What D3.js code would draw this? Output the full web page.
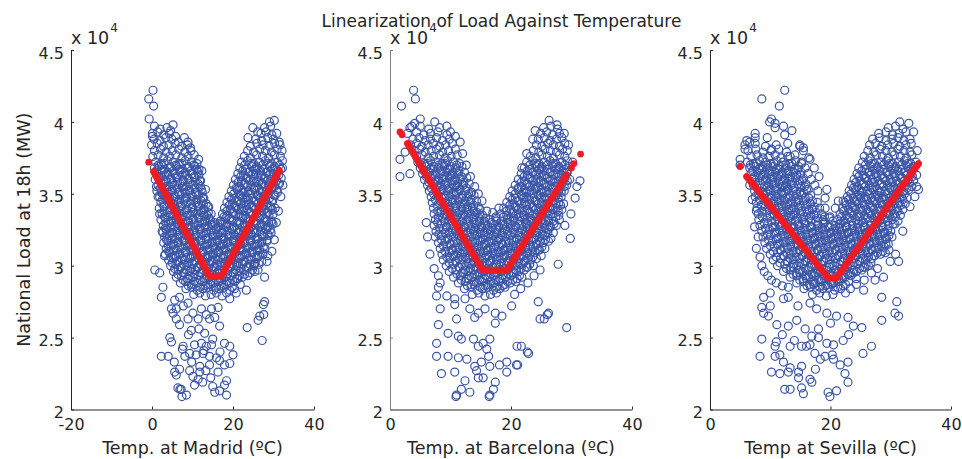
<!DOCTYPE html>
<html>
<head>
<meta charset="utf-8">
<script src="https://cdn.jsdelivr.net/npm/d3@7"></script>
<style>
  body { margin: 0; background: #fff; }
  svg { display: block; font-family: "DejaVu Sans", sans-serif; }
</style>
</head>
<body>
<svg width="962" height="459"></svg>
<script>
// [temperature ºC, national load at 18h in units of 10^4 MW]
const madridPoints = [
  [0.6,3.97],[2.0,3.95],[3.7,3.96],[4.6,3.94],[27.8,3.96],[29.3,3.97],
  [0.1,3.92],[1.4,3.93],[2.9,3.91],[4.3,3.92],[5.8,3.90],[26.9,3.92],[28.2,3.93],[29.6,3.91],[30.8,3.92],
  [0.5,3.88],[2.0,3.87],[3.4,3.89],[4.9,3.88],[6.5,3.86],[8.0,3.89],[25.6,3.88],[27.1,3.87],[28.6,3.89],[30.0,3.88],[31.4,3.86],
  [-0.1,3.84],[1.3,3.85],[2.8,3.83],[4.2,3.84],[5.7,3.85],[7.3,3.83],[8.8,3.84],[24.3,3.83],[25.9,3.85],[27.4,3.84],[28.9,3.83],[30.3,3.85],[31.6,3.84],
  [0.6,3.80],[2.1,3.81],[3.5,3.79],[5.0,3.80],[6.6,3.81],[8.1,3.79],[9.6,3.80],[23.6,3.80],[25.1,3.79],[26.6,3.81],[28.0,3.80],[29.5,3.79],[30.9,3.81],[32.1,3.80],
  [0.2,3.76],[1.5,3.77],[2.9,3.75],[4.4,3.76],[5.9,3.77],[7.4,3.75],[8.9,3.76],[10.4,3.77],[22.8,3.76],[24.3,3.75],[25.8,3.77],[27.3,3.76],[28.8,3.75],[30.2,3.77],[31.7,3.76],
  [0.9,3.72],[2.3,3.71],[3.8,3.73],[5.2,3.72],[6.7,3.71],[8.2,3.73],[9.7,3.72],[11.1,3.71],[22.1,3.72],[23.6,3.73],[25.1,3.71],[26.5,3.72],[28.0,3.73],[29.5,3.71],[30.9,3.72],[32.2,3.73],
  [0.6,3.68],[1.7,3.69],[3.1,3.67],[4.6,3.68],[6.0,3.69],[7.5,3.67],[9.0,3.68],[10.5,3.69],[11.6,3.67],[21.7,3.68],[23.1,3.67],[24.6,3.69],[26.0,3.68],[27.5,3.67],[29.0,3.69],[30.4,3.68],[31.8,3.67],
  [1.3,3.64],[2.6,3.65],[4.0,3.63],[5.4,3.64],[6.9,3.65],[8.3,3.63],[9.8,3.64],[11.3,3.65],[21.2,3.64],[22.6,3.63],[24.0,3.65],[25.5,3.64],[27.0,3.63],[28.4,3.65],[29.9,3.64],[31.3,3.63],
  [0.8,3.60],[2.0,3.61],[3.4,3.59],[4.8,3.60],[6.2,3.61],[7.7,3.59],[9.1,3.60],[10.6,3.61],[12.0,3.59],[20.6,3.60],[22.1,3.59],[23.5,3.61],[25.0,3.60],[26.4,3.59],[27.9,3.61],[29.3,3.60],[30.8,3.59],[31.9,3.61],
  [1.5,3.56],[2.8,3.57],[4.2,3.55],[5.6,3.56],[7.0,3.57],[8.5,3.55],[9.9,3.56],[11.4,3.57],[20.1,3.56],[21.5,3.55],[23.0,3.57],[24.4,3.56],[25.9,3.55],[27.3,3.57],[28.7,3.56],[30.2,3.55],[31.5,3.57],
  [1.2,3.52],[2.3,3.51],[3.6,3.53],[5.0,3.52],[6.4,3.51],[7.8,3.53],[9.3,3.52],[10.7,3.51],[12.2,3.53],[19.6,3.52],[21.0,3.53],[22.4,3.51],[23.8,3.52],[25.3,3.53],[26.7,3.51],[28.2,3.52],[29.6,3.53],[31.0,3.51],
  [1.9,3.48],[3.0,3.49],[4.4,3.47],[5.8,3.48],[7.2,3.49],[8.6,3.47],[10.1,3.48],[11.5,3.49],[12.8,3.47],[19.0,3.48],[20.4,3.47],[21.8,3.49],[23.2,3.48],[24.7,3.47],[26.1,3.49],[27.6,3.48],[29.0,3.47],[30.4,3.49],
  [2.2,3.44],[3.7,3.45],[5.1,3.43],[6.5,3.44],[7.9,3.45],[9.4,3.43],[10.8,3.44],[12.2,3.45],[13.4,3.43],[18.5,3.44],[19.9,3.43],[21.3,3.45],[22.7,3.44],[24.1,3.43],[25.6,3.45],[27.0,3.44],[28.4,3.43],[29.8,3.45],
  [1.8,3.40],[3.0,3.41],[4.4,3.39],[5.8,3.40],[7.2,3.41],[8.6,3.39],[10.0,3.40],[11.5,3.41],[12.9,3.39],[14.0,3.41],[17.9,3.40],[19.3,3.39],[20.7,3.41],[22.1,3.40],[23.5,3.39],[25.0,3.41],[26.4,3.40],[27.8,3.39],[29.3,3.41],[30.4,3.40],
  [2.5,3.36],[3.8,3.37],[5.2,3.35],[6.6,3.36],[8.0,3.37],[9.4,3.35],[10.8,3.36],[12.2,3.37],[13.6,3.35],[17.4,3.36],[18.7,3.35],[20.1,3.37],[21.5,3.36],[23.0,3.35],[24.4,3.37],[25.8,3.36],[27.2,3.35],[28.6,3.37],[29.9,3.36],
  [2.2,3.32],[3.3,3.33],[4.6,3.31],[6.0,3.32],[7.4,3.33],[8.8,3.31],[10.2,3.32],[11.6,3.33],[13.0,3.31],[14.4,3.32],[16.9,3.31],[18.2,3.33],[19.6,3.32],[21.0,3.31],[22.4,3.33],[23.8,3.32],[25.2,3.31],[26.6,3.33],[28.0,3.32],[29.4,3.31],
  [2.8,3.28],[4.1,3.29],[5.5,3.27],[6.8,3.28],[8.2,3.29],[9.6,3.27],[11.0,3.28],[12.4,3.29],[13.8,3.27],[15.1,3.28],[16.4,3.27],[17.6,3.29],[19.0,3.28],[20.3,3.27],[21.7,3.29],[23.1,3.28],[24.5,3.27],[25.9,3.29],[27.3,3.28],[28.7,3.27],[29.9,3.29],
  [2.5,3.24],[3.6,3.25],[4.9,3.23],[6.3,3.24],[7.7,3.25],[9.1,3.23],[10.5,3.24],[11.9,3.25],[13.3,3.23],[14.6,3.24],[15.9,3.25],[17.2,3.23],[18.5,3.24],[19.8,3.25],[21.2,3.23],[22.6,3.24],[24.0,3.25],[25.4,3.23],[26.8,3.24],[28.2,3.25],[29.4,3.23],
  [3.1,3.20],[4.3,3.21],[5.7,3.19],[7.0,3.20],[8.4,3.21],[9.8,3.19],[11.2,3.20],[12.6,3.21],[13.9,3.19],[15.2,3.20],[16.5,3.21],[17.8,3.19],[19.2,3.20],[20.5,3.21],[21.9,3.19],[23.3,3.20],[24.7,3.21],[26.1,3.19],[27.5,3.20],[28.9,3.21],
  [2.9,3.16],[4.0,3.17],[5.2,3.15],[6.5,3.16],[7.9,3.17],[9.3,3.15],[10.7,3.16],[12.1,3.17],[13.5,3.15],[14.8,3.16],[16.1,3.17],[17.4,3.15],[18.7,3.16],[20.1,3.17],[21.5,3.15],[22.9,3.16],[24.3,3.17],[25.7,3.15],[27.1,3.16],[28.4,3.17],
  [3.5,3.12],[4.7,3.13],[6.0,3.11],[7.4,3.12],[8.8,3.13],[10.2,3.11],[11.6,3.12],[13.0,3.13],[14.3,3.11],[15.6,3.12],[16.9,3.13],[18.2,3.11],[19.6,3.12],[21.0,3.13],[22.4,3.11],[23.8,3.12],[25.2,3.13],[26.6,3.11],[27.9,3.12],
  [3.3,3.08],[4.4,3.09],[5.6,3.07],[6.9,3.08],[8.3,3.09],[9.7,3.07],[11.1,3.08],[12.5,3.09],[13.8,3.07],[15.1,3.08],[16.4,3.09],[17.7,3.07],[19.1,3.08],[20.5,3.09],[21.9,3.07],[23.3,3.08],[24.7,3.09],[26.1,3.07],[27.4,3.08],
  [4.1,3.04],[5.3,3.05],[6.6,3.03],[8.0,3.04],[9.4,3.05],[10.8,3.03],[12.2,3.04],[13.6,3.05],[14.9,3.03],[16.2,3.04],[17.5,3.05],[18.8,3.03],[20.2,3.04],[21.6,3.05],[23.0,3.03],[24.4,3.04],[25.8,3.05],[27.1,3.03],
  [4.6,3.00],[5.9,3.01],[7.2,2.99],[8.6,3.00],[10.0,3.01],[11.4,2.99],[12.8,3.00],[14.2,3.01],[15.5,2.99],[16.8,3.00],[18.1,3.01],[19.5,2.99],[20.9,3.00],[22.3,3.01],[23.7,2.99],[25.1,3.00],[26.4,3.01],
  [5.3,2.96],[6.5,2.97],[7.9,2.95],[9.3,2.96],[10.7,2.97],[12.1,2.95],[13.5,2.96],[14.8,2.97],[16.1,2.95],[17.4,2.96],[18.7,2.97],[20.1,2.95],[21.5,2.96],[22.9,2.97],[24.2,2.95],[25.4,2.96],
  [6.0,2.92],[7.3,2.93],[8.7,2.91],[10.1,2.92],[11.5,2.93],[12.9,2.91],[14.2,2.92],[15.5,2.93],[16.8,2.91],[18.1,2.92],[19.5,2.93],[20.9,2.91],[22.3,2.92],[23.6,2.93],
  [7.0,2.88],[8.3,2.89],[9.7,2.87],[11.1,2.88],[12.5,2.89],[13.8,2.87],[15.1,2.88],[16.4,2.89],[17.7,2.87],[19.1,2.88],[20.5,2.89],[21.8,2.87],
  [8.4,2.84],[9.8,2.85],[11.2,2.83],[12.6,2.84],[13.9,2.85],[15.2,2.83],[16.5,2.84],[17.8,2.85],[19.2,2.83],[20.4,2.84],
  [10.3,2.80],[11.8,2.81],[13.2,2.79],[14.6,2.80],[15.9,2.81],[17.3,2.79],
  [0.25,4.22],[-0.8,4.16],[0.4,4.11],[-0.7,4.02],[0.1,3.90],[5.2,3.98],[8.9,3.86],[9.5,3.82],[11.5,3.74],[12.3,3.66],[13.2,3.53],[13.8,3.41],[14.6,3.36],[15.4,3.30],[16.3,3.29],
  [1.1,3.55],[1.5,3.48],[1.9,3.36],[2.7,3.23],[3.1,3.07],[0.7,2.97],[1.9,2.95],[2.7,2.85],[2.3,2.78],
  [24.9,3.96],[26.1,3.93],[23.7,3.89],[29.0,4.00],[30.2,4.01],[32.2,3.68],[32.3,3.56],[31.8,3.48],[31.2,3.38],[30.7,3.30],[30.2,3.18],[29.6,3.10],[28.6,3.07],[28.4,3.03],
  [26.2,2.97],[25.3,3.01],[27.8,2.92],[23.3,2.83],[20.8,2.81],[18.4,2.81],[19.2,2.77],
  [5.6,2.76],[6.8,2.78],[6.0,2.70],[7.7,2.72],[8.9,2.74],[10.1,2.67],[12.2,2.70],[13.4,2.66],[14.7,2.70],[16.3,2.71],[16.7,2.58],[15.5,2.64],[14.2,2.63],[11.4,2.63],
  [8.9,2.63],[6.8,2.59],[6.0,2.63],[5.2,2.67],[4.8,2.70],[11.6,2.56],[9.7,2.55],[4.4,2.50],[4.8,2.47],[7.7,2.44],[10.5,2.45],[12.2,2.46],[13.4,2.44],[14.7,2.45],
  [17.9,2.46],[19.2,2.44],[8.1,2.37],[9.3,2.39],[10.9,2.38],[12.6,2.39],[14.2,2.37],[15.9,2.36],[20.0,2.38],[19.2,2.32],[17.9,2.31],[2.3,2.37],[4.0,2.37],[11.8,2.30],
  [14.2,2.31],[16.7,2.34],[6.0,2.24],[5.6,2.26],[6.8,2.28],[10.1,2.23],[11.4,2.21],[11.8,2.26],[16.3,2.26],[18.4,2.20],[17.9,2.17],[6.4,2.15],[7.2,2.14],[8.5,2.10],
  [15.5,2.12],[16.7,2.13],[18.4,2.10],[6.9,2.14],[7.4,2.09],[9.0,2.52],[13.0,2.53],[15.0,2.49],[12.8,2.41],[9.8,2.33],[13.3,2.27],[7.5,2.42],[16.8,2.40],[5.5,2.33],
  [10.5,2.17],[12.5,2.19],[14.5,2.22],[9.3,2.27],[15.0,2.16],
  [27.8,2.75],[26.6,2.65],[26.2,2.62],[23.5,2.57],[27.2,2.48],[27.6,2.66],[27.5,2.73]
];
const madridCore = [
  [1.6,3.70],[3.0,3.71],[4.5,3.69],[5.9,3.70],[7.4,3.71],[8.9,3.69],[10.3,3.70],[22.9,3.70],[24.4,3.71],[25.8,3.69],[27.3,3.70],[28.7,3.71],[30.2,3.69],[31.5,3.70],
  [1.1,3.66],[2.4,3.67],[3.9,3.65],[5.3,3.66],[6.8,3.67],[8.2,3.65],[9.6,3.66],[11.0,3.67],[22.4,3.66],[23.9,3.65],[25.3,3.67],[26.8,3.66],[28.2,3.65],[29.7,3.67],[31.1,3.66],
  [1.7,3.62],[3.1,3.63],[4.6,3.61],[6.0,3.62],[7.5,3.63],[8.9,3.61],[10.4,3.62],[11.6,3.63],[21.9,3.62],[23.3,3.61],[24.8,3.63],[26.2,3.62],[27.7,3.61],[29.1,3.63],[30.6,3.62],
  [2.2,3.58],[3.5,3.59],[4.9,3.57],[6.3,3.58],[7.8,3.59],[9.2,3.57],[10.7,3.58],[11.8,3.59],[21.3,3.58],[22.8,3.57],[24.2,3.59],[25.7,3.58],[27.1,3.57],[28.6,3.59],[30.0,3.58],[31.2,3.57],
  [2.1,3.54],[3.5,3.55],[4.9,3.53],[6.3,3.54],[7.7,3.55],[9.1,3.53],[10.6,3.54],[12.0,3.55],[20.8,3.54],[22.2,3.53],[23.6,3.55],[25.1,3.54],[26.5,3.53],[28.0,3.55],[29.4,3.54],[30.8,3.53],
  [2.6,3.50],[4.0,3.51],[5.4,3.49],[6.8,3.50],[8.2,3.51],[9.6,3.49],[11.0,3.50],[12.4,3.51],[20.2,3.50],[21.6,3.49],[23.0,3.51],[24.4,3.50],[25.9,3.49],[27.3,3.51],[28.7,3.50],[30.1,3.49],
  [2.6,3.46],[4.0,3.47],[5.4,3.45],[6.8,3.46],[8.2,3.47],[9.6,3.45],[11.1,3.46],[12.5,3.47],[19.6,3.46],[21.0,3.45],[22.4,3.47],[23.8,3.46],[25.2,3.45],[26.7,3.47],[28.1,3.46],[29.5,3.45],
  [2.9,3.42],[4.3,3.43],[5.7,3.41],[7.1,3.42],[8.5,3.43],[9.9,3.41],[11.3,3.42],[12.7,3.43],[19.1,3.42],[20.5,3.41],[21.9,3.43],[23.3,3.42],[24.7,3.41],[26.2,3.43],[27.6,3.42],[29.0,3.41],
  [3.0,3.38],[4.4,3.39],[5.8,3.37],[7.2,3.38],[8.6,3.39],[10.0,3.37],[11.4,3.38],[12.8,3.39],[13.9,3.37],[18.5,3.38],[19.9,3.37],[21.3,3.39],[22.7,3.38],[24.1,3.37],[25.5,3.39],[27.0,3.38],[28.4,3.37],[29.7,3.39],
  [3.1,3.34],[4.5,3.35],[5.9,3.33],[7.3,3.34],[8.7,3.35],[10.1,3.33],[11.5,3.34],[12.9,3.35],[14.1,3.33],[17.8,3.34],[19.2,3.33],[20.6,3.35],[22.0,3.34],[23.4,3.33],[24.8,3.35],[26.2,3.34],[27.6,3.33],[28.9,3.35],
  [3.4,3.30],[4.8,3.31],[6.2,3.29],[7.6,3.30],[9.0,3.31],[10.4,3.29],[11.8,3.30],[13.2,3.31],[14.6,3.29],[17.2,3.30],[18.6,3.29],[20.0,3.31],[21.4,3.30],[22.8,3.29],[24.2,3.31],[25.6,3.30],[27.0,3.29],[28.4,3.31],[29.6,3.30],
  [3.3,3.26],[4.7,3.27],[6.1,3.25],[7.5,3.26],[8.9,3.27],[10.3,3.25],[11.7,3.26],[13.1,3.27],[14.5,3.25],[15.8,3.26],[17.0,3.25],[18.3,3.27],[19.7,3.26],[21.0,3.25],[22.4,3.27],[23.8,3.26],[25.2,3.25],[26.6,3.27],[28.0,3.26],[29.2,3.25],
  [3.7,3.22],[5.1,3.23],[6.5,3.21],[7.9,3.22],[9.3,3.23],[10.7,3.21],[12.1,3.22],[13.5,3.23],[14.9,3.21],[16.2,3.22],[17.5,3.23],[18.8,3.21],[20.2,3.22],[21.6,3.23],[23.0,3.21],[24.4,3.22],[25.8,3.23],[27.2,3.21],[28.5,3.22],
  [3.6,3.18],[5.0,3.19],[6.4,3.17],[7.8,3.18],[9.2,3.19],[10.6,3.17],[12.0,3.18],[13.4,3.19],[14.8,3.17],[16.1,3.18],[17.4,3.19],[18.7,3.17],[20.1,3.18],[21.5,3.19],[22.9,3.17],[24.3,3.18],[25.7,3.19],[27.1,3.17],[28.4,3.18],
  [4.0,3.14],[5.4,3.15],[6.8,3.13],[8.2,3.14],[9.6,3.15],[11.0,3.13],[12.4,3.14],[13.8,3.15],[15.2,3.13],[16.5,3.14],[17.8,3.15],[19.1,3.13],[20.5,3.14],[21.9,3.15],[23.3,3.13],[24.7,3.14],[26.1,3.15],[27.5,3.13],
  [4.1,3.10],[5.4,3.11],[6.8,3.09],[8.2,3.10],[9.6,3.11],[11.0,3.09],[12.4,3.10],[13.8,3.11],[15.1,3.09],[16.4,3.10],[17.7,3.11],[19.0,3.09],[20.4,3.10],[21.8,3.11],[23.2,3.09],[24.6,3.10],[26.0,3.11],[27.3,3.09],
  [4.7,3.06],[6.0,3.07],[7.4,3.05],[8.8,3.06],[10.2,3.07],[11.6,3.05],[13.0,3.06],[14.3,3.07],[15.6,3.05],[16.9,3.06],[18.2,3.07],[19.6,3.05],[21.0,3.06],[22.4,3.07],[23.8,3.05],[25.2,3.06],[26.5,3.07],
  [5.0,3.02],[6.3,3.03],[7.7,3.01],[9.1,3.02],[10.5,3.03],[11.9,3.01],[13.3,3.02],[14.6,3.03],[15.9,3.01],[17.2,3.02],[18.5,3.03],[19.9,3.01],[21.3,3.02],[22.7,3.03],[24.1,3.01],[25.5,3.02],
  [5.6,2.98],[7.0,2.99],[8.4,2.97],[9.8,2.98],[11.2,2.99],[12.6,2.97],[14.0,2.98],[15.3,2.99],[16.6,2.97],[17.9,2.98],[19.2,2.99],[20.6,2.97],[22.0,2.98],[23.4,2.99],[24.8,2.97],
  [6.4,2.94],[7.8,2.95],[9.2,2.93],[10.6,2.94],[12.0,2.95],[13.4,2.93],[14.8,2.94],[16.1,2.95],[17.4,2.93],[18.7,2.94],[20.1,2.95],[21.5,2.93],[22.9,2.94],
  [7.7,2.90],[9.1,2.91],[10.5,2.89],[11.9,2.90],[13.3,2.91],[14.6,2.89],[15.9,2.90],[17.2,2.91],[18.5,2.89],[19.9,2.90],[21.2,2.91],
  [9.0,2.86],[10.4,2.87],[11.8,2.85],[13.2,2.86],[14.5,2.87],[15.8,2.85],[17.1,2.86],[18.5,2.87],[19.8,2.85]
];

const barcelonaPoints = [
  [3.3,3.96],[5.0,3.97],[6.4,3.95],[8.2,3.96],[25.4,3.96],[26.6,3.97],[27.7,3.95],
  [2.9,3.92],[4.4,3.93],[5.6,3.91],[6.7,3.92],[7.9,3.93],[9.4,3.91],[24.9,3.92],[25.9,3.93],[26.9,3.91],[28.0,3.92],
  [3.8,3.88],[4.8,3.89],[5.8,3.87],[6.7,3.88],[7.7,3.89],[8.7,3.87],[9.8,3.88],[24.5,3.88],[25.5,3.89],[26.5,3.87],[27.5,3.88],[28.4,3.89],
  [3.4,3.84],[4.4,3.85],[5.3,3.83],[6.3,3.84],[7.2,3.85],[8.2,3.83],[9.2,3.84],[10.3,3.85],[24.2,3.84],[25.1,3.83],[26.1,3.85],[27.0,3.84],[28.0,3.83],[28.9,3.85],
  [4.0,3.80],[4.9,3.81],[5.8,3.79],[6.8,3.80],[7.7,3.81],[8.7,3.79],[9.7,3.80],[10.8,3.81],[23.7,3.80],[24.6,3.79],[25.6,3.81],[26.5,3.80],[27.5,3.79],[28.5,3.81],[29.3,3.80],
  [4.4,3.76],[5.3,3.77],[6.3,3.75],[7.2,3.76],[8.2,3.77],[9.1,3.75],[10.1,3.76],[11.1,3.77],[23.2,3.76],[24.1,3.75],[25.1,3.77],[26.0,3.76],[27.0,3.75],[28.0,3.77],[28.9,3.76],
  [4.6,3.72],[5.7,3.71],[6.7,3.73],[7.6,3.72],[8.6,3.71],[9.5,3.73],[10.5,3.72],[11.5,3.71],[22.6,3.72],[23.6,3.73],[24.6,3.71],[25.5,3.72],[26.5,3.73],[27.4,3.71],[28.4,3.72],[29.3,3.73],
  [5.0,3.68],[6.1,3.69],[7.1,3.67],[8.0,3.68],[9.0,3.69],[9.9,3.67],[10.9,3.68],[11.9,3.69],[22.2,3.68],[23.1,3.67],[24.1,3.69],[25.0,3.68],[26.0,3.67],[26.9,3.69],[27.9,3.68],[28.8,3.67],[29.6,3.69],
  [5.4,3.64],[6.5,3.65],[7.5,3.63],[8.4,3.64],[9.4,3.65],[10.3,3.63],[11.3,3.64],[12.3,3.65],[21.7,3.64],[22.7,3.63],[23.6,3.65],[24.6,3.64],[25.5,3.63],[26.5,3.65],[27.4,3.64],[28.4,3.63],[29.3,3.65],
  [5.7,3.60],[6.9,3.61],[7.9,3.59],[8.8,3.60],[9.8,3.61],[10.7,3.59],[11.7,3.60],[12.7,3.61],[21.2,3.60],[22.2,3.59],[23.1,3.61],[24.1,3.60],[25.0,3.59],[26.0,3.61],[26.9,3.60],[27.9,3.59],[28.8,3.61],[29.7,3.60],
  [6.2,3.56],[7.3,3.57],[8.3,3.55],[9.2,3.56],[10.2,3.57],[11.1,3.55],[12.1,3.56],[13.1,3.57],[20.7,3.56],[21.7,3.55],[22.6,3.57],[23.6,3.56],[24.5,3.55],[25.5,3.57],[26.4,3.56],[27.4,3.55],[28.3,3.57],[29.2,3.56],
  [6.5,3.52],[7.7,3.51],[8.6,3.53],[9.6,3.52],[10.5,3.51],[11.5,3.53],[12.5,3.52],[13.5,3.51],[20.2,3.52],[21.2,3.53],[22.1,3.51],[23.1,3.52],[24.0,3.53],[25.0,3.51],[25.9,3.52],[26.9,3.53],[27.8,3.51],[28.8,3.52],
  [6.8,3.48],[8.0,3.49],[9.0,3.47],[9.9,3.48],[10.9,3.49],[11.9,3.47],[12.9,3.48],[13.9,3.49],[19.8,3.48],[20.7,3.47],[21.7,3.49],[22.6,3.48],[23.6,3.47],[24.5,3.49],[25.5,3.48],[26.4,3.47],[27.4,3.49],[28.3,3.48],
  [7.0,3.44],[8.3,3.45],[9.3,3.43],[10.3,3.44],[11.3,3.45],[12.3,3.43],[13.3,3.44],[14.3,3.45],[19.3,3.44],[20.3,3.43],[21.2,3.45],[22.2,3.44],[23.1,3.43],[24.1,3.45],[25.0,3.44],[26.0,3.43],[26.9,3.45],[27.9,3.44],[28.7,3.43],
  [7.2,3.40],[8.6,3.41],[9.7,3.39],[10.7,3.40],[11.7,3.41],[12.7,3.39],[13.6,3.40],[14.6,3.41],[18.8,3.40],[19.8,3.39],[20.8,3.41],[21.7,3.40],[22.7,3.39],[23.6,3.41],[24.6,3.40],[25.5,3.39],[26.5,3.41],[27.4,3.40],[28.4,3.39],
  [7.3,3.36],[8.4,3.37],[9.4,3.35],[10.4,3.36],[11.4,3.37],[12.4,3.35],[13.4,3.36],[14.4,3.37],[15.3,3.35],[18.3,3.36],[19.3,3.35],[20.3,3.37],[21.2,3.36],[22.2,3.35],[23.1,3.37],[24.1,3.36],[25.0,3.35],[26.0,3.37],[26.9,3.36],[27.9,3.35],
  [7.5,3.32],[8.7,3.33],[9.7,3.31],[10.7,3.32],[11.7,3.33],[12.7,3.31],[13.7,3.32],[14.7,3.33],[15.6,3.31],[16.5,3.32],[17.5,3.33],[18.4,3.31],[19.4,3.32],[20.4,3.33],[21.3,3.31],[22.3,3.32],[23.2,3.33],[24.2,3.31],[25.1,3.32],[26.1,3.33],[27.0,3.31],[28.0,3.32],
  [7.3,3.28],[8.4,3.29],[9.4,3.27],[10.4,3.28],[11.4,3.29],[12.4,3.27],[13.4,3.28],[14.3,3.29],[15.2,3.27],[16.1,3.28],[17.1,3.29],[18.0,3.27],[18.9,3.28],[19.9,3.29],[20.8,3.27],[21.8,3.28],[22.7,3.29],[23.7,3.27],[24.6,3.28],[25.6,3.29],[26.5,3.27],[27.5,3.28],
  [7.6,3.24],[8.8,3.25],[9.8,3.23],[10.8,3.24],[11.8,3.25],[12.8,3.23],[13.8,3.24],[14.7,3.25],[15.6,3.23],[16.6,3.24],[17.5,3.25],[18.5,3.23],[19.4,3.24],[20.4,3.25],[21.3,3.23],[22.3,3.24],[23.2,3.25],[24.2,3.23],[25.1,3.24],[26.1,3.25],[27.0,3.23],
  [7.5,3.20],[8.5,3.21],[9.5,3.19],[10.5,3.20],[11.5,3.21],[12.5,3.19],[13.5,3.20],[14.4,3.21],[15.3,3.19],[16.2,3.20],[17.1,3.21],[18.0,3.19],[19.0,3.20],[19.9,3.21],[20.9,3.19],[21.8,3.20],[22.8,3.21],[23.7,3.19],[24.7,3.20],[25.6,3.21],[26.6,3.19],
  [8.0,3.16],[9.1,3.17],[10.1,3.15],[11.1,3.16],[12.1,3.17],[13.1,3.15],[14.0,3.16],[14.9,3.17],[15.8,3.15],[16.7,3.16],[17.7,3.17],[18.6,3.15],[19.6,3.16],[20.5,3.17],[21.5,3.15],[22.4,3.16],[23.4,3.17],[24.3,3.15],[25.3,3.16],[26.2,3.17],
  [8.3,3.12],[9.4,3.13],[10.4,3.11],[11.4,3.12],[12.4,3.13],[13.4,3.11],[14.3,3.12],[15.2,3.13],[16.1,3.11],[17.1,3.12],[18.0,3.13],[19.0,3.11],[19.9,3.12],[20.9,3.13],[21.8,3.11],[22.8,3.12],[23.7,3.13],[24.7,3.11],[25.6,3.12],
  [8.6,3.08],[9.8,3.09],[10.8,3.07],[11.8,3.08],[12.8,3.09],[13.7,3.07],[14.6,3.08],[15.5,3.09],[16.4,3.07],[17.4,3.08],[18.3,3.09],[19.3,3.07],[20.2,3.08],[21.2,3.09],[22.1,3.07],[23.1,3.08],[24.0,3.09],[25.0,3.07],
  [8.8,3.04],[9.9,3.05],[10.9,3.03],[11.9,3.04],[12.9,3.05],[13.9,3.03],[14.8,3.04],[15.7,3.05],[16.6,3.03],[17.6,3.04],[18.5,3.05],[19.5,3.03],[20.4,3.04],[21.4,3.05],[22.3,3.03],[23.3,3.04],[24.2,3.05],
  [9.3,3.00],[10.4,3.01],[11.4,2.99],[12.4,3.00],[13.4,3.01],[14.3,2.99],[15.2,3.00],[16.1,3.01],[17.0,2.99],[18.0,3.00],[18.9,3.01],[19.9,2.99],[20.8,3.00],[21.8,3.01],[22.7,2.99],[23.7,3.00],
  [9.8,2.96],[10.9,2.97],[11.9,2.95],[12.9,2.96],[13.8,2.97],[14.7,2.95],[15.6,2.96],[16.5,2.97],[17.5,2.95],[18.4,2.96],[19.4,2.97],[20.3,2.95],[21.3,2.96],[22.2,2.97],
  [10.5,2.92],[11.6,2.93],[12.6,2.91],[13.5,2.92],[14.4,2.93],[15.3,2.91],[16.2,2.92],[17.2,2.93],[18.1,2.91],[19.1,2.92],[20.0,2.93],[21.0,2.91],[21.8,2.92],
  [11.3,2.88],[12.4,2.89],[13.4,2.87],[14.3,2.88],[15.2,2.89],[16.1,2.87],[17.1,2.88],[18.0,2.89],[19.0,2.87],[19.9,2.88],[20.8,2.89],
  [12.3,2.84],[13.4,2.85],[14.4,2.83],[15.3,2.84],[16.2,2.85],[17.1,2.83],[18.1,2.84],[19.0,2.85],
  [13.6,2.80],[14.7,2.81],[15.7,2.79],[16.6,2.80],[17.6,2.81],
  [3.9,4.22],[4.2,4.16],[1.9,4.11],[5.0,4.02],[7.4,4.00],[9.4,3.97],[10.0,3.93],[3.6,3.97],[4.1,3.99],[1.65,3.74],[1.65,3.62],[3.3,3.64],[2.5,3.79],
  [10.8,3.90],[11.6,3.86],[12.0,3.78],[12.6,3.70],[13.3,3.62],[14.0,3.55],[14.6,3.50],[15.2,3.45],[16.0,3.38],[17.0,3.37],[18.0,3.40],[17.5,3.34],
  [21.8,3.68],[22.6,3.78],[23.6,3.88],[24.0,3.94],[26.3,4.01],[27.6,3.98],[28.8,3.92],[29.5,3.84],[31.4,3.59],[30.9,3.55],[30.6,3.47],[29.8,3.19],[27.8,3.01],
  [30.2,3.72],[29.9,3.36],[28.9,3.28],[6.0,3.30],[6.2,3.20],[6.6,3.08],[7.3,2.98],[8.0,2.93],[8.3,2.88],[24.8,2.97],[23.8,2.93],[22.8,2.88],[21.6,2.84],[20.6,2.80],
  [8.0,2.85],[7.7,2.79],[9.4,2.79],[10.7,2.77],[12.4,2.77],[8.3,2.70],[10.7,2.73],[13.2,2.70],[14.6,2.67],[15.7,2.70],[17.4,2.67],[18.5,2.65],[20.1,2.72],[17.4,2.60],
  [14.0,2.64],[11.0,2.63],[8.0,2.59],[9.6,2.53],[11.3,2.51],[11.8,2.49],[13.8,2.49],[14.6,2.44],[15.4,2.46],[16.0,2.42],[16.5,2.49],[7.7,2.46],[7.7,2.37],[9.6,2.37],
  [11.3,2.36],[12.7,2.35],[14.0,2.30],[15.1,2.33],[16.3,2.37],[16.5,2.30],[18.1,2.31],[19.3,2.33],[20.9,2.31],[8.5,2.25],[10.7,2.26],[14.3,2.27],[14.6,2.22],[15.4,2.22],
  [19.3,2.26],[17.4,2.19],[17.1,2.14],[12.4,2.20],[11.8,2.14],[13.2,2.12],[11.0,2.10],[16.5,2.10],[10.9,2.09],[16.4,2.09],
  [29.2,2.57],[26.2,2.67],[24.5,2.75],[24.8,2.63],[21.0,2.44],[22.9,2.39],[26.0,2.66],[25.5,2.63],[21.7,2.44],[22.7,2.40],[21.1,2.31]
];
const barcelonaCore = [
  [5.2,3.70],[6.2,3.71],[7.2,3.69],[8.1,3.70],[9.1,3.71],[10.0,3.69],[11.0,3.70],[23.1,3.70],[24.1,3.71],[25.1,3.69],[26.0,3.70],[27.0,3.71],[27.9,3.69],[28.9,3.70],
  [5.6,3.66],[6.6,3.67],[7.6,3.65],[8.5,3.66],[9.5,3.67],[10.4,3.65],[11.4,3.66],[22.7,3.66],[23.6,3.65],[24.6,3.67],[25.5,3.66],[26.5,3.65],[27.4,3.67],[28.4,3.66],[29.2,3.65],
  [6.0,3.62],[7.0,3.63],[8.0,3.61],[8.9,3.62],[9.9,3.63],[10.8,3.61],[11.8,3.62],[22.2,3.62],[23.2,3.61],[24.1,3.63],[25.1,3.62],[26.0,3.61],[27.0,3.63],[27.9,3.62],[28.9,3.61],
  [6.4,3.58],[7.4,3.59],[8.4,3.57],[9.3,3.58],[10.3,3.59],[11.2,3.57],[12.2,3.58],[21.7,3.58],[22.7,3.57],[23.6,3.59],[24.6,3.58],[25.5,3.57],[26.5,3.59],[27.4,3.58],[28.4,3.57],[29.3,3.59],
  [6.8,3.54],[7.8,3.55],[8.8,3.53],[9.7,3.54],[10.7,3.55],[11.6,3.53],[12.6,3.54],[21.2,3.54],[22.2,3.53],[23.1,3.55],[24.1,3.54],[25.0,3.53],[26.0,3.55],[26.9,3.54],[27.9,3.53],[28.8,3.55],
  [7.2,3.50],[8.2,3.51],[9.1,3.49],[10.1,3.50],[11.0,3.51],[12.0,3.49],[13.0,3.50],[20.7,3.50],[21.7,3.49],[22.6,3.51],[23.6,3.50],[24.5,3.49],[25.5,3.51],[26.4,3.50],[27.4,3.49],[28.3,3.51],
  [7.5,3.46],[8.5,3.47],[9.5,3.45],[10.4,3.46],[11.4,3.47],[12.4,3.45],[13.4,3.46],[20.2,3.46],[21.2,3.45],[22.1,3.47],[23.1,3.46],[24.0,3.45],[25.0,3.47],[25.9,3.46],[26.9,3.45],[27.8,3.47],
  [7.8,3.42],[8.8,3.43],[9.8,3.41],[10.8,3.42],[11.8,3.43],[12.8,3.41],[13.8,3.42],[19.8,3.42],[20.7,3.41],[21.7,3.43],[22.6,3.42],[23.6,3.41],[24.5,3.43],[25.5,3.42],[26.4,3.41],[27.4,3.43],[28.2,3.42],
  [7.9,3.38],[8.9,3.39],[9.9,3.37],[10.9,3.38],[11.9,3.39],[12.9,3.37],[13.9,3.38],[14.9,3.39],[19.3,3.38],[20.3,3.37],[21.2,3.39],[22.2,3.38],[23.1,3.37],[24.1,3.39],[25.0,3.38],[26.0,3.37],[26.9,3.39],[27.8,3.38],
  [8.0,3.34],[9.0,3.35],[10.0,3.33],[11.0,3.34],[12.0,3.35],[13.0,3.33],[13.9,3.34],[14.9,3.35],[15.8,3.33],[18.8,3.34],[19.8,3.33],[20.8,3.35],[21.7,3.34],[22.7,3.33],[23.6,3.35],[24.6,3.34],[25.5,3.33],[26.5,3.35],[27.4,3.34],
  [7.9,3.30],[9.0,3.31],[10.0,3.29],[11.0,3.30],[12.0,3.31],[12.9,3.29],[13.9,3.30],[14.8,3.31],[15.7,3.29],[16.7,3.30],[17.6,3.31],[18.6,3.29],[19.5,3.30],[20.5,3.31],[21.4,3.29],[22.4,3.30],[23.3,3.31],[24.3,3.29],[25.2,3.30],[26.2,3.31],[27.1,3.29],
  [8.2,3.26],[9.3,3.27],[10.3,3.25],[11.3,3.26],[12.3,3.27],[13.3,3.25],[14.2,3.26],[15.1,3.27],[16.1,3.25],[17.0,3.26],[18.0,3.27],[18.9,3.25],[19.9,3.26],[20.8,3.27],[21.8,3.25],[22.7,3.26],[23.7,3.27],[24.6,3.25],[25.6,3.26],[26.5,3.27],
  [8.1,3.22],[9.1,3.23],[10.1,3.21],[11.1,3.22],[12.1,3.23],[13.1,3.21],[14.0,3.22],[14.9,3.23],[15.8,3.21],[16.7,3.22],[17.6,3.23],[18.6,3.21],[19.5,3.22],[20.5,3.23],[21.4,3.21],[22.4,3.22],[23.3,3.23],[24.3,3.21],[25.2,3.22],[26.1,3.23],
  [8.5,3.18],[9.6,3.19],[10.6,3.17],[11.6,3.18],[12.6,3.19],[13.6,3.17],[14.5,3.18],[15.4,3.19],[16.3,3.17],[17.2,3.18],[18.2,3.19],[19.1,3.17],[20.1,3.18],[21.0,3.19],[22.0,3.17],[22.9,3.18],[23.9,3.19],[24.8,3.17],[25.7,3.18],
  [8.8,3.14],[9.9,3.15],[10.9,3.13],[11.9,3.14],[12.9,3.15],[13.8,3.13],[14.7,3.14],[15.6,3.15],[16.6,3.13],[17.5,3.14],[18.5,3.15],[19.4,3.13],[20.4,3.14],[21.3,3.15],[22.3,3.13],[23.2,3.14],[24.2,3.15],[25.1,3.13],
  [9.1,3.10],[10.2,3.11],[11.2,3.09],[12.2,3.10],[13.2,3.11],[14.1,3.09],[15.0,3.10],[16.0,3.11],[16.9,3.09],[17.9,3.10],[18.8,3.11],[19.8,3.09],[20.7,3.10],[21.7,3.11],[22.6,3.09],[23.6,3.10],[24.5,3.11],
  [9.4,3.06],[10.4,3.07],[11.4,3.05],[12.4,3.06],[13.3,3.07],[14.2,3.05],[15.1,3.06],[16.0,3.07],[17.0,3.05],[17.9,3.06],[18.9,3.07],[19.8,3.05],[20.8,3.06],[21.7,3.07],[22.7,3.05],[23.6,3.06],
  [9.8,3.02],[10.9,3.03],[11.9,3.01],[12.9,3.02],[13.8,3.03],[14.7,3.01],[15.6,3.02],[16.5,3.03],[17.5,3.01],[18.4,3.02],[19.4,3.03],[20.3,3.01],[21.3,3.02],[22.2,3.03],[23.1,3.01],
  [10.3,2.98],[11.4,2.99],[12.4,2.97],[13.3,2.98],[14.2,2.99],[15.1,2.97],[16.0,2.98],[17.0,2.99],[17.9,2.97],[18.9,2.98],[19.8,2.99],[20.8,2.97],[21.7,2.98],[22.6,2.99],
  [11.1,2.94],[12.1,2.95],[13.1,2.93],[14.0,2.94],[14.9,2.95],[15.8,2.93],[16.7,2.94],[17.7,2.95],[18.6,2.93],[19.6,2.94],[20.5,2.95],[21.4,2.93],
  [11.8,2.90],[12.9,2.91],[13.9,2.89],[14.8,2.90],[15.7,2.91],[16.6,2.89],[17.5,2.90],[18.5,2.91],[19.4,2.89],[20.3,2.90],
  [12.8,2.86],[13.9,2.87],[14.9,2.85],[15.8,2.86],[16.7,2.87],[17.6,2.85],[18.6,2.86]
];

const sevillaPoints = [
  [29.6,3.96],[30.8,3.97],[32.0,3.95],
  [28.0,3.92],[29.2,3.93],[30.3,3.91],[31.4,3.92],[32.5,3.93],
  [27.0,3.88],[28.1,3.89],[29.2,3.87],[30.2,3.88],[31.2,3.89],[32.2,3.87],[33.2,3.88],
  [5.8,3.84],[7.5,3.85],[9.2,3.83],[11.0,3.84],[12.9,3.85],[14.9,3.83],[26.5,3.84],[27.5,3.85],[28.5,3.83],[29.5,3.84],[30.5,3.85],[31.5,3.83],[32.5,3.84],[33.4,3.85],
  [6.3,3.80],[7.6,3.81],[8.8,3.79],[10.1,3.80],[11.4,3.81],[12.7,3.79],[15.5,3.80],[26.2,3.80],[27.2,3.79],[28.2,3.81],[29.2,3.80],[30.2,3.79],[31.2,3.81],[32.2,3.80],[33.2,3.79],
  [6.8,3.76],[7.8,3.77],[8.8,3.75],[9.8,3.76],[10.8,3.77],[11.8,3.75],[12.9,3.76],[14.1,3.77],[16.4,3.75],[25.6,3.76],[26.6,3.75],[27.6,3.77],[28.6,3.76],[29.6,3.75],[30.6,3.77],[31.6,3.76],[32.6,3.75],[33.5,3.77],
  [6.2,3.72],[7.2,3.71],[8.2,3.73],[9.2,3.72],[10.1,3.71],[11.1,3.73],[12.1,3.72],[13.1,3.71],[14.2,3.73],[15.2,3.72],[25.3,3.72],[26.3,3.73],[27.3,3.71],[28.3,3.72],[29.3,3.73],[30.3,3.71],[31.3,3.72],[32.3,3.73],[33.3,3.71],[34.2,3.72],
  [6.6,3.68],[7.6,3.69],[8.6,3.67],[9.5,3.68],[10.5,3.69],[11.5,3.67],[12.5,3.68],[13.5,3.69],[14.6,3.67],[15.8,3.68],[24.7,3.68],[25.7,3.67],[26.7,3.69],[27.7,3.68],[28.7,3.67],[29.7,3.69],[30.7,3.68],[31.7,3.67],[32.7,3.69],[33.7,3.68],
  [6.8,3.64],[7.9,3.65],[8.9,3.63],[9.9,3.64],[10.9,3.65],[11.9,3.63],[12.9,3.64],[13.9,3.65],[15.0,3.63],[16.3,3.64],[24.4,3.64],[25.4,3.63],[26.4,3.65],[27.4,3.64],[28.4,3.63],[29.4,3.65],[30.4,3.64],[31.4,3.63],[32.4,3.65],[33.4,3.64],[34.3,3.63],
  [7.0,3.60],[8.2,3.61],[9.2,3.59],[10.2,3.60],[11.2,3.61],[12.2,3.59],[13.2,3.60],[14.2,3.61],[15.3,3.59],[16.8,3.60],[23.9,3.60],[24.9,3.59],[25.9,3.61],[26.9,3.60],[27.9,3.59],[28.9,3.61],[29.9,3.60],[30.9,3.59],[31.9,3.61],[32.9,3.60],[33.8,3.59],
  [7.2,3.56],[8.4,3.57],[9.5,3.55],[10.5,3.56],[11.5,3.57],[12.5,3.55],[13.5,3.56],[14.6,3.57],[15.7,3.55],[17.4,3.56],[23.5,3.56],[24.5,3.55],[25.5,3.57],[26.5,3.56],[27.5,3.55],[28.5,3.57],[29.5,3.56],[30.5,3.55],[31.5,3.57],[32.5,3.56],[33.5,3.55],
  [7.4,3.52],[8.7,3.51],[9.8,3.53],[10.8,3.52],[11.8,3.51],[12.8,3.53],[13.8,3.52],[14.9,3.51],[16.0,3.53],[17.9,3.52],[23.1,3.52],[24.1,3.53],[25.1,3.51],[26.1,3.52],[27.1,3.53],[28.1,3.51],[29.1,3.52],[30.1,3.53],[31.1,3.51],[32.1,3.52],[33.0,3.53],
  [7.5,3.48],[8.9,3.49],[10.0,3.47],[11.0,3.48],[12.1,3.49],[13.1,3.47],[14.1,3.48],[15.2,3.49],[16.4,3.47],[22.8,3.48],[23.8,3.47],[24.8,3.49],[25.8,3.48],[26.8,3.47],[27.8,3.49],[28.8,3.48],[29.8,3.47],[30.8,3.49],[31.8,3.48],[32.7,3.47],
  [7.7,3.44],[9.1,3.45],[10.3,3.43],[11.3,3.44],[12.3,3.45],[13.4,3.43],[14.4,3.44],[15.5,3.45],[16.7,3.43],[17.8,3.44],[22.4,3.44],[23.4,3.43],[24.4,3.45],[25.4,3.44],[26.4,3.43],[27.4,3.45],[28.4,3.44],[29.4,3.43],[30.4,3.45],[31.4,3.44],[32.4,3.43],
  [7.8,3.40],[9.2,3.41],[10.4,3.39],[11.5,3.40],[12.6,3.41],[13.6,3.39],[14.7,3.40],[15.8,3.41],[17.0,3.39],[18.2,3.40],[22.0,3.40],[23.0,3.39],[24.0,3.41],[25.0,3.40],[26.0,3.39],[27.0,3.41],[28.0,3.40],[29.0,3.39],[30.0,3.41],[31.0,3.40],[32.0,3.39],
  [8.0,3.36],[9.4,3.37],[10.7,3.35],[11.8,3.36],[12.9,3.37],[13.9,3.35],[15.0,3.36],[16.1,3.37],[17.3,3.35],[18.5,3.36],[21.6,3.36],[22.6,3.35],[23.6,3.37],[24.6,3.36],[25.6,3.35],[26.6,3.37],[27.6,3.36],[28.6,3.35],[29.6,3.37],[30.6,3.36],[31.6,3.35],
  [8.1,3.32],[9.5,3.33],[10.9,3.31],[12.0,3.32],[13.1,3.33],[14.2,3.31],[15.3,3.32],[16.4,3.33],[17.6,3.31],[18.8,3.32],[19.8,3.33],[21.2,3.32],[22.2,3.31],[23.2,3.33],[24.2,3.32],[25.2,3.31],[26.2,3.33],[27.2,3.32],[28.2,3.31],[29.2,3.33],[30.2,3.32],[31.2,3.31],
  [8.3,3.28],[9.6,3.29],[10.8,3.27],[11.9,3.28],[12.9,3.29],[13.9,3.27],[14.9,3.28],[15.9,3.29],[16.9,3.27],[17.9,3.28],[18.9,3.29],[19.9,3.27],[20.8,3.28],[21.7,3.29],[22.7,3.27],[23.7,3.28],[24.7,3.29],[25.7,3.27],[26.7,3.28],[27.7,3.29],[28.7,3.27],[29.7,3.28],[30.7,3.29],
  [8.6,3.24],[9.9,3.25],[11.0,3.23],[12.1,3.24],[13.1,3.25],[14.1,3.23],[15.1,3.24],[16.1,3.25],[17.1,3.23],[18.1,3.24],[19.1,3.25],[20.1,3.23],[21.0,3.24],[22.0,3.25],[23.0,3.23],[24.0,3.24],[25.0,3.25],[26.0,3.23],[27.0,3.24],[28.0,3.25],[29.0,3.23],[30.0,3.24],
  [8.8,3.20],[10.1,3.21],[11.3,3.19],[12.4,3.20],[13.4,3.21],[14.4,3.19],[15.4,3.20],[16.4,3.21],[17.4,3.19],[18.4,3.20],[19.4,3.21],[20.4,3.19],[21.3,3.20],[22.3,3.21],[23.3,3.19],[24.3,3.20],[25.3,3.21],[26.3,3.19],[27.3,3.20],[28.3,3.21],[29.3,3.19],[30.2,3.20],
  [9.1,3.16],[10.4,3.17],[11.6,3.15],[12.6,3.16],[13.6,3.17],[14.6,3.15],[15.6,3.16],[16.6,3.17],[17.6,3.15],[18.6,3.16],[19.6,3.17],[20.6,3.15],[21.6,3.16],[22.6,3.17],[23.6,3.15],[24.6,3.16],[25.6,3.17],[26.6,3.15],[27.6,3.16],[28.6,3.17],[29.6,3.15],
  [9.4,3.12],[10.7,3.13],[11.8,3.11],[12.9,3.12],[13.9,3.13],[14.9,3.11],[15.9,3.12],[16.9,3.13],[17.9,3.11],[18.9,3.12],[19.9,3.13],[20.9,3.11],[21.9,3.12],[22.9,3.13],[23.9,3.11],[24.9,3.12],[25.9,3.13],[26.9,3.11],[27.9,3.12],[28.9,3.13],[29.7,3.11],
  [10.0,3.08],[11.2,3.09],[12.3,3.07],[13.3,3.08],[14.3,3.09],[15.3,3.07],[16.3,3.08],[17.3,3.09],[18.3,3.07],[19.3,3.08],[20.3,3.09],[21.3,3.07],[22.3,3.08],[23.3,3.09],[24.3,3.07],[25.3,3.08],[26.3,3.09],[27.3,3.07],[28.3,3.08],[29.1,3.09],
  [10.5,3.04],[11.7,3.05],[12.8,3.03],[13.8,3.04],[14.8,3.05],[15.8,3.03],[16.8,3.04],[17.8,3.05],[18.8,3.03],[19.8,3.04],[20.8,3.05],[21.8,3.03],[22.8,3.04],[23.8,3.05],[24.8,3.03],[25.8,3.04],[26.8,3.05],
  [11.2,3.00],[12.4,3.01],[13.4,2.99],[14.4,3.00],[15.4,3.01],[16.4,2.99],[17.4,3.00],[18.4,3.01],[19.4,2.99],[20.4,3.00],[21.4,3.01],[22.4,2.99],[23.4,3.00],[24.4,3.01],[25.4,2.99],[26.3,3.00],
  [12.2,2.96],[13.3,2.97],[14.3,2.95],[15.3,2.96],[16.3,2.97],[17.3,2.95],[18.3,2.96],[19.3,2.97],[20.3,2.95],[21.3,2.96],[22.3,2.97],[23.3,2.95],[24.3,2.96],[25.2,2.97],
  [13.3,2.92],[14.4,2.93],[15.4,2.91],[16.4,2.92],[17.4,2.93],[18.4,2.91],[19.4,2.92],[20.4,2.93],[21.4,2.91],[22.4,2.92],[23.4,2.93],[24.3,2.91],
  [14.4,2.88],[15.5,2.89],[16.5,2.87],[17.5,2.88],[18.5,2.89],[19.5,2.87],[20.5,2.88],[21.5,2.89],[22.5,2.87],
  [15.6,2.84],[16.7,2.85],[17.7,2.83],[18.7,2.84],[19.7,2.85],[20.7,2.83],[21.7,2.84],
  [17.0,2.80],[18.2,2.81],[19.3,2.79],[20.4,2.80],
  [12.4,4.22],[8.6,4.16],[11.5,4.11],[10.2,4.02],[9.9,4.00],[10.8,3.99],[10.8,3.96],[12.2,3.97],[12.4,3.91],[13.6,3.94],[7.5,3.92],[6.6,3.86],[5.8,3.81],[5.0,3.74],
  [5.0,3.70],[7.5,3.89],[6.1,3.87],[9.5,3.89],[10.2,3.81],[14.9,3.84],[15.5,3.82],[13.3,3.76],[16.6,3.74],[15.2,3.71],[17.3,3.68],[18.1,3.62],[19.4,3.53],[19.1,3.47],
  [19.1,3.40],[21.3,3.45],[22.1,3.45],[19.9,3.34],[20.8,3.40],
  [7.7,3.38],[7.4,3.27],[8.0,3.20],[7.7,3.12],[8.3,3.06],[8.6,3.00],[9.0,2.96],[9.6,2.93],[10.2,2.90],[11.0,2.88],[12.0,2.86],[13.0,2.85],[7.0,3.46],[6.6,3.56],
  [31.3,3.03],[31.0,2.75],[30.7,2.67],[31.3,2.65],[28.5,2.62],[28.5,2.78],[25.5,2.83],[27.4,2.90],[28.8,2.92],[33.2,3.41],[34.0,3.48],[34.3,3.55],[34.6,3.53],[32.0,3.24],
  [30.8,3.08],[29.9,3.03],[27.8,2.98],[26.8,2.95],[25.6,2.90],[24.3,2.87],[23.3,2.84],[22.5,2.81],[34.4,3.80],[33.8,3.93],[33.0,3.99],[31.5,4.00],
  [8.9,2.78],[10.0,2.81],[12.2,2.77],[13.0,2.78],[14.6,2.72],[16.6,2.74],[17.7,2.70],[19.4,2.67],[21.0,2.65],[22.9,2.64],[23.8,2.58],[25.2,2.57],[8.9,2.67],[8.6,2.71],
  [10.0,2.72],[9.7,2.65],[11.1,2.59],[13.0,2.58],[14.4,2.62],[15.8,2.56],[16.9,2.51],[18.0,2.50],[19.4,2.46],[20.5,2.45],[22.1,2.48],[26.8,2.44],[25.4,2.39],[8.6,2.49],
  [8.3,2.37],[10.8,2.44],[10.8,2.37],[11.6,2.38],[13.3,2.44],[15.2,2.44],[16.0,2.44],[16.6,2.45],[17.4,2.39],[18.3,2.35],[19.1,2.37],[20.5,2.35],[21.6,2.31],[22.9,2.33],
  [12.2,2.33],[13.3,2.29],[15.2,2.30],[14.7,2.26],[10.2,2.26],[11.6,2.25],[13.0,2.26],[14.7,2.22],[16.6,2.21],[16.9,2.19],[22.4,2.25],[22.9,2.19],[12.4,2.14],[13.3,2.14],
  [15.2,2.15],[15.5,2.11],[19.6,2.12],[21.0,2.13],[19.9,2.09],[11.0,2.47],[20.3,2.38],[17.5,2.28],[12.0,2.52],[14.0,2.48],[18.0,2.56],[20.0,2.60],[23.0,2.52]
];
const sevillaCore = [
  [6.7,3.70],[7.7,3.71],[8.7,3.69],[9.6,3.70],[10.6,3.71],[11.6,3.69],[12.6,3.70],[13.6,3.71],[14.7,3.69],[25.8,3.70],[26.8,3.71],[27.8,3.69],[28.8,3.70],[29.8,3.71],[30.8,3.69],[31.8,3.70],[32.8,3.71],[33.7,3.69],
  [7.1,3.66],[8.1,3.67],[9.1,3.65],[10.0,3.66],[11.0,3.67],[12.0,3.65],[13.0,3.66],[14.0,3.67],[15.1,3.65],[25.2,3.66],[26.2,3.65],[27.2,3.67],[28.2,3.66],[29.2,3.65],[30.2,3.67],[31.2,3.66],[32.2,3.65],[33.2,3.67],
  [7.4,3.62],[8.4,3.63],[9.4,3.61],[10.4,3.62],[11.4,3.63],[12.4,3.61],[13.4,3.62],[14.4,3.63],[15.5,3.61],[24.7,3.62],[25.7,3.61],[26.7,3.63],[27.7,3.62],[28.7,3.61],[29.7,3.63],[30.7,3.62],[31.7,3.61],[32.7,3.63],[33.6,3.62],
  [7.6,3.58],[8.7,3.59],[9.7,3.57],[10.7,3.58],[11.7,3.59],[12.7,3.57],[13.7,3.58],[14.8,3.59],[15.9,3.57],[24.2,3.58],[25.2,3.57],[26.2,3.59],[27.2,3.58],[28.2,3.57],[29.2,3.59],[30.2,3.58],[31.2,3.57],[32.2,3.59],[33.1,3.58],
  [7.9,3.54],[9.0,3.55],[10.0,3.53],[11.0,3.54],[12.0,3.55],[13.0,3.53],[14.0,3.54],[15.1,3.55],[16.3,3.53],[23.8,3.54],[24.8,3.53],[25.8,3.55],[26.8,3.54],[27.8,3.53],[28.8,3.55],[29.8,3.54],[30.8,3.53],[31.8,3.55],[32.7,3.54],
  [8.1,3.50],[9.3,3.51],[10.3,3.49],[11.3,3.50],[12.3,3.51],[13.3,3.49],[14.4,3.50],[15.5,3.51],[16.7,3.49],[23.4,3.50],[24.4,3.49],[25.4,3.51],[26.4,3.50],[27.4,3.49],[28.4,3.51],[29.4,3.50],[30.4,3.49],[31.4,3.51],[32.3,3.50],
  [8.3,3.46],[9.5,3.47],[10.6,3.45],[11.6,3.46],[12.6,3.47],[13.6,3.45],[14.7,3.46],[15.8,3.47],[17.0,3.45],[23.0,3.46],[24.0,3.45],[25.0,3.47],[26.0,3.46],[27.0,3.45],[28.0,3.47],[29.0,3.46],[30.0,3.45],[31.0,3.47],[32.0,3.46],
  [8.5,3.42],[9.7,3.43],[10.8,3.41],[11.9,3.42],[12.9,3.43],[13.9,3.41],[15.0,3.42],[16.1,3.43],[17.3,3.41],[22.6,3.42],[23.6,3.41],[24.6,3.43],[25.6,3.42],[26.6,3.41],[27.6,3.43],[28.6,3.42],[29.6,3.41],[30.6,3.43],[31.6,3.42],
  [8.6,3.38],[9.9,3.39],[11.0,3.37],[12.1,3.38],[13.1,3.39],[14.2,3.37],[15.2,3.38],[16.4,3.39],[17.6,3.37],[22.2,3.38],[23.2,3.37],[24.2,3.39],[25.2,3.38],[26.2,3.37],[27.2,3.39],[28.2,3.38],[29.2,3.37],[30.2,3.39],[31.2,3.38],
  [8.7,3.34],[10.0,3.35],[11.2,3.33],[12.3,3.34],[13.4,3.35],[14.5,3.33],[15.6,3.34],[16.7,3.35],[17.9,3.33],[19.0,3.34],[21.8,3.34],[22.8,3.33],[23.8,3.35],[24.8,3.34],[25.8,3.33],[26.8,3.35],[27.8,3.34],[28.8,3.33],[29.8,3.35],[30.8,3.34],
  [9.0,3.30],[10.2,3.31],[11.4,3.29],[12.5,3.30],[13.5,3.31],[14.6,3.29],[15.7,3.30],[16.8,3.31],[17.9,3.29],[19.0,3.30],[20.4,3.31],[21.5,3.29],[22.5,3.30],[23.5,3.31],[24.5,3.29],[25.5,3.30],[26.5,3.31],[27.5,3.29],[28.5,3.30],[29.5,3.31],[30.4,3.29],
  [9.2,3.26],[10.4,3.27],[11.5,3.25],[12.6,3.26],[13.6,3.27],[14.6,3.25],[15.6,3.26],[16.6,3.27],[17.6,3.25],[18.6,3.26],[19.6,3.27],[20.5,3.25],[21.5,3.26],[22.5,3.27],[23.5,3.25],[24.5,3.26],[25.5,3.27],[26.5,3.25],[27.5,3.26],[28.5,3.27],[29.5,3.25],
  [9.5,3.22],[10.7,3.23],[11.8,3.21],[12.9,3.22],[13.9,3.23],[14.9,3.21],[15.9,3.22],[16.9,3.23],[17.9,3.21],[18.9,3.22],[19.9,3.23],[20.8,3.21],[21.8,3.22],[22.8,3.23],[23.8,3.21],[24.8,3.22],[25.8,3.23],[26.8,3.21],[27.8,3.22],[28.8,3.23],[29.7,3.21],
  [9.7,3.18],[11.0,3.19],[12.1,3.17],[13.1,3.18],[14.1,3.19],[15.1,3.17],[16.1,3.18],[17.1,3.19],[18.1,3.17],[19.1,3.18],[20.1,3.19],[21.1,3.17],[22.1,3.18],[23.1,3.19],[24.1,3.17],[25.1,3.18],[26.1,3.19],[27.1,3.17],[28.1,3.18],[29.1,3.19],
  [10.0,3.14],[11.2,3.15],[12.3,3.13],[13.4,3.14],[14.4,3.15],[15.4,3.13],[16.4,3.14],[17.4,3.15],[18.4,3.13],[19.4,3.14],[20.4,3.15],[21.4,3.13],[22.4,3.14],[23.4,3.15],[24.4,3.13],[25.4,3.14],[26.4,3.15],[27.4,3.13],[28.4,3.14],[29.2,3.15],
  [10.5,3.10],[11.7,3.11],[12.8,3.09],[13.8,3.10],[14.8,3.11],[15.8,3.09],[16.8,3.10],[17.8,3.11],[18.8,3.09],[19.8,3.10],[20.8,3.11],[21.8,3.09],[22.8,3.10],[23.8,3.11],[24.8,3.09],[25.8,3.10],[26.8,3.11],[27.8,3.09],[28.7,3.10],
  [11.0,3.06],[12.2,3.07],[13.3,3.05],[14.3,3.06],[15.3,3.07],[16.3,3.05],[17.3,3.06],[18.3,3.07],[19.3,3.05],[20.3,3.06],[21.3,3.07],[22.3,3.05],[23.3,3.06],[24.3,3.07],[25.3,3.05],[26.3,3.06],[27.2,3.07],
  [11.6,3.02],[12.9,3.03],[13.9,3.01],[14.9,3.02],[15.9,3.03],[16.9,3.01],[17.9,3.02],[18.9,3.03],[19.9,3.01],[20.9,3.02],[21.9,3.03],[22.9,3.01],[23.9,3.02],[24.9,3.03],[25.9,3.01],[26.7,3.02],
  [12.7,2.98],[13.8,2.99],[14.8,2.97],[15.8,2.98],[16.8,2.99],[17.8,2.97],[18.8,2.98],[19.8,2.99],[20.8,2.97],[21.8,2.98],[22.8,2.99],[23.8,2.97],[24.8,2.98],[25.7,2.99],
  [13.8,2.94],[14.9,2.95],[15.9,2.93],[16.9,2.94],[17.9,2.95],[18.9,2.93],[19.9,2.94],[20.9,2.95],[21.9,2.93],[22.9,2.94],[23.8,2.95],
  [14.9,2.90],[16.0,2.91],[17.0,2.89],[18.0,2.90],[19.0,2.91],[20.0,2.89],[21.0,2.90],[22.0,2.91],[23.0,2.89],
  [16.1,2.86],[17.2,2.87],[18.2,2.85],[19.2,2.86],[20.2,2.87],[21.2,2.85],[22.1,2.86]
];

// piecewise linear fits (red) and the few fit dots that stand apart from them
const madridFit = [[0.4,3.655],[14.2,2.926],[17.1,2.926],[31.4,3.66]];
const madridFitDots = [[-0.8,3.72]];
const barcelonaFit = [[2.9,3.85],[15.3,2.968],[19.3,2.968],[29.2,3.632]];
const barcelonaFitDots = [[1.65,3.93],[2.0,3.91],[30.0,3.68],[30.4,3.71],[31.5,3.776]];
const sevillaFit = [[6.1,3.62],[19.6,2.915],[21.0,2.915],[34.6,3.71]];
const sevillaFitDots = [[5.0,3.69]];

const madridTicks = [-20, 0, 20, 40];
const barcelonaTicks = [0, 20, 40];
const sevillaTicks = [0, 20, 40];
const loadTicks = [2, 2.5, 3, 3.5, 4, 4.5];

const blue = "#3a55a6", red = "#ec1c24", ink = "#262626";

const svg = d3.select("svg");
const y = d3.scaleLinear().domain([2, 4.5]).range([409.5, 50]);

const panels = [
  {label: "Temp. at Madrid (ºC)", pts: madridPoints.concat(madridCore), fit: madridFit, dots: madridFitDots, ticks: madridTicks, left: 71, right: 314, yColor: ink},
  {label: "Temp. at Barcelona (ºC)", pts: barcelonaPoints.concat(barcelonaCore), fit: barcelonaFit, dots: barcelonaFitDots, ticks: barcelonaTicks, left: 390, right: 632, yColor: "#7f7f7f"},
  {label: "Temp at Sevilla (ºC)", pts: sevillaPoints.concat(sevillaCore), fit: sevillaFit, dots: sevillaFitDots, ticks: sevillaTicks, left: 710, right: 951, yColor: ink}
];

panels.forEach(p => {
  const x = d3.scaleLinear().domain(d3.extent(p.ticks)).range([p.left, p.right]);
  const g = svg.append("g");

  // scatter
  g.append("g").selectAll("circle")
    .data(p.pts)
    .join("circle")
      .attr("cx", d => x(d[0]))
      .attr("cy", d => y(d[1]))
      .attr("r", 4)
      .attr("fill", "none")
      .attr("stroke", blue)
      .attr("stroke-width", 1.2);

  // fitted V
  g.append("path")
    .datum(p.fit)
    .attr("d", d3.line().x(d => x(d[0])).y(d => y(d[1])))
    .attr("fill", "none")
    .attr("stroke", red)
    .attr("stroke-width", 7)
    .attr("stroke-linecap", "round")
    .attr("stroke-linejoin", "round");

  g.append("g").selectAll("circle")
    .data(p.dots)
    .join("circle")
      .attr("cx", d => x(d[0]))
      .attr("cy", d => y(d[1]))
      .attr("r", 3.4)
      .attr("fill", red);

  // axes
  const gx = svg.append("g")
    .attr("transform", `translate(0,${y(2)})`)
    .call(d3.axisBottom(x).tickValues(p.ticks).tickSize(-3).tickSizeOuter(0).tickFormat(d => String(d)));
  gx.attr("font-family", null).attr("font-size", 16);
  gx.select(".domain").attr("stroke", ink);
  gx.selectAll(".tick line").attr("stroke", ink);
  gx.selectAll(".tick text").attr("y", 20.5).attr("dy", null).attr("fill", ink);

  const gy = svg.append("g")
    .attr("transform", `translate(${p.left},0)`)
    .call(d3.axisLeft(y).tickValues(loadTicks).tickSize(-3).tickSizeOuter(0).tickFormat(d => String(d)));
  gy.attr("font-family", null).attr("font-size", 16);
  gy.select(".domain").attr("stroke", p.yColor);
  gy.selectAll(".tick line").attr("stroke", p.yColor);
  gy.selectAll(".tick text").attr("x", -7).attr("dy", "0.5em").attr("fill", ink);

  // exponent
  const ex = svg.append("text")
    .attr("x", p.left)
    .attr("y", 43.5)
    .attr("font-size", 17.5)
    .attr("fill", ink);
  ex.append("tspan").text("x 10");
  ex.append("tspan").attr("font-size", 12).attr("dx", 1).attr("dy", -11.5).text("4");

  // x label
  svg.append("text")
    .attr("x", (p.left + p.right) / 2)
    .attr("y", 454)
    .attr("text-anchor", "middle")
    .attr("font-size", 17.5)
    .attr("fill", ink)
    .text(p.label);
});

svg.append("text")
  .attr("transform", "translate(30,229.75) rotate(-90)")
  .attr("text-anchor", "middle")
  .attr("font-size", 17.5)
  .attr("fill", ink)
  .text("National Load at 18h (MW)");

svg.append("text")
  .attr("x", 501.5)
  .attr("y", 26.5)
  .attr("text-anchor", "middle")
  .attr("font-size", 17)
  .attr("fill", ink)
  .text("Linearization of Load Against Temperature");
</script>
</body>
</html>
